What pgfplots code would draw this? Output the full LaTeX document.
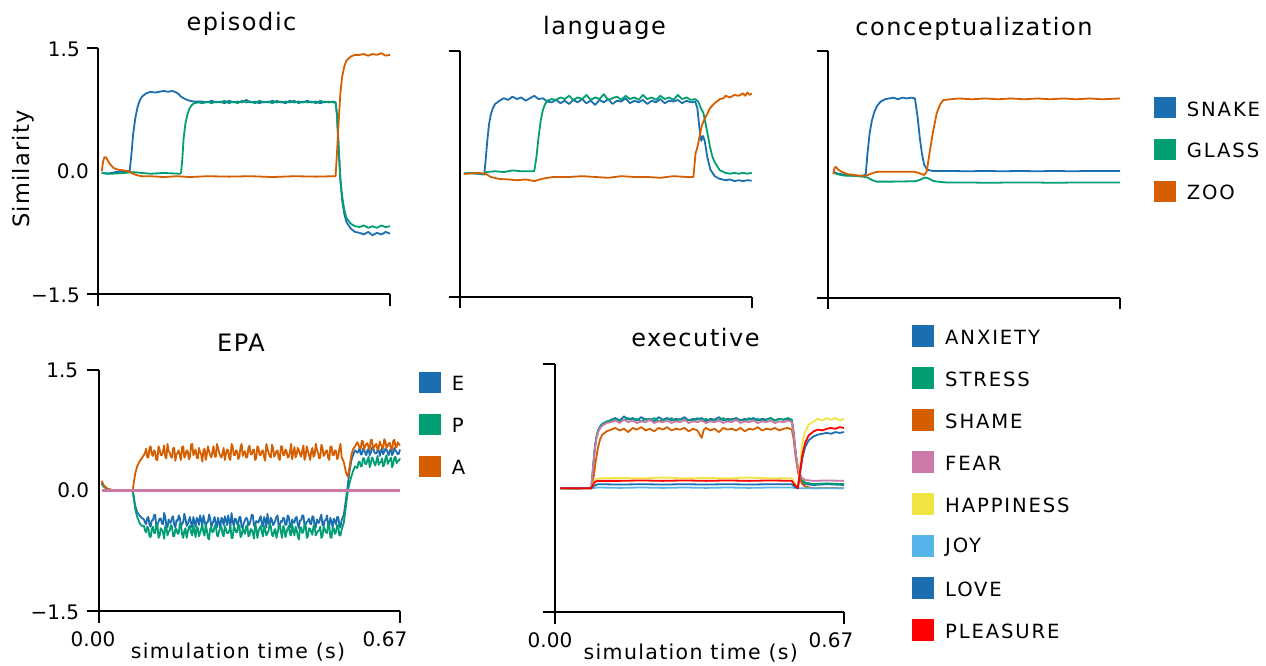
\documentclass[border=0pt]{standalone}
\usepackage{fontspec}
\setmainfont{DejaVu Sans}
\usepackage{pgfplots}
\usepackage{pgfplotstable}
\pgfplotsset{compat=1.18}
\definecolor{cblue}{HTML}{1B6FB0}
\definecolor{cgreen}{HTML}{029E73}
\definecolor{corange}{HTML}{D55E00}
\definecolor{cpink}{HTML}{CC79A7}
\definecolor{cyellow}{HTML}{F0E442}
\definecolor{csky}{HTML}{56B4E9}
\definecolor{cred}{HTML}{FF0000}
\newcommand{\ttlfont}{\fontsize{24}{28}\selectfont\addfontfeature{LetterSpace=6.5}}
\newcommand{\tickfont}{\fontsize{20}{24}\selectfont}
\newcommand{\xlabfont}{\fontsize{20.5}{24}\selectfont\addfontfeature{LetterSpace=6.5}}
\newcommand{\ylabfont}{\fontsize{22.5}{26}\selectfont\addfontfeature{LetterSpace=5.5}}
\newcommand{\legfont}{\fontsize{19.6}{23}\selectfont\addfontfeature{LetterSpace=9.5}}
\pgfplotsset{
 panel/.style={
  scale only axis, anchor=south west,
  xmin=0, xmax=0.67, ymin=-1.5, ymax=1.5,
  axis lines=left,
  axis line style={-, line width=2.3pt, black},
  xtick={0,0.67}, ytick={-1.5,1.5},
  xticklabels={}, yticklabels={},
  tick align=outside,
  major tick length=11.7pt,
  tick style={line width=2.3pt, black},
  clip=false,
  every axis plot/.append style={line width=1.8pt, line join=round, mark=none},
 }
}
\pgfplotstableread{
t E P A
0.006 0.10 0.08 0.12
0.010 0.06 0.05 0.07
0.015 0.03 0.03 0.04
0.020 0.015 0.015 0.02
0.030 0.005 0.005 0.005
0.040 0 0 0
0.060 0 0 0
0.075 0 0 0
0.078 -0.10 -0.12 0.12
0.081 -0.20 -0.24 0.22
0.085 -0.27 -0.33 0.30
0.090 -0.31 -0.40 0.36
0.095 -0.34 -0.44 0.40
0.100 -0.36 -0.44 0.44
0.1025 -0.40 -0.50 0.47
0.105 -0.42 -0.52 0.52
0.1075 -0.34 -0.45 0.41
0.110 -0.33 -0.47 0.41
0.1125 -0.43 -0.57 0.53
0.115 -0.45 -0.58 0.55
0.1175 -0.37 -0.48 0.45
0.120 -0.37 -0.45 0.43
0.1225 -0.31 -0.53 0.50
0.125 -0.30 -0.53 0.48
0.1275 -0.44 -0.43 0.38
0.130 -0.43 -0.42 0.38
0.1325 -0.39 -0.59 0.55
0.135 -0.35 -0.56 0.51
0.1375 -0.35 -0.47 0.44
0.140 -0.41 -0.49 0.44
0.1425 -0.42 -0.52 0.49
0.145 -0.28 -0.60 0.56
0.1475 -0.33 -0.44 0.42
0.150 -0.44 -0.46 0.40
0.1525 -0.46 -0.56 0.58
0.155 -0.36 -0.51 0.49
0.1575 -0.40 -0.50 0.47
0.160 -0.40 -0.43 0.42
0.1625 -0.34 -0.45 0.41
0.165 -0.32 -0.57 0.53
0.1675 -0.43 -0.57 0.53
0.170 -0.46 -0.48 0.37
0.1725 -0.37 -0.48 0.45
0.175 -0.38 -0.54 0.47
0.1775 -0.31 -0.53 0.50
0.180 -0.34 -0.41 0.43
0.1825 -0.44 -0.43 0.38
0.185 -0.42 -0.55 0.54
0.1875 -0.39 -0.59 0.55
0.190 -0.29 -0.50 0.41
0.1925 -0.35 -0.47 0.44
0.195 -0.44 -0.59 0.50
0.1975 -0.42 -0.52 0.49
0.200 -0.37 -0.45 0.39
0.2025 -0.33 -0.44 0.42
0.205 -0.41 -0.52 0.57
0.2075 -0.46 -0.56 0.58
0.210 -0.33 -0.44 0.44
0.2125 -0.40 -0.50 0.47
0.215 -0.45 -0.58 0.51
0.2175 -0.34 -0.45 0.41
0.220 -0.36 -0.47 0.40
0.2225 -0.43 -0.57 0.53
0.225 -0.31 -0.53 0.48
0.2275 -0.37 -0.48 0.45
0.230 -0.43 -0.42 0.36
0.2325 -0.31 -0.53 0.50
0.235 -0.38 -0.56 0.52
0.2375 -0.44 -0.43 0.38
0.240 -0.40 -0.49 0.45
0.2425 -0.39 -0.59 0.55
0.245 -0.30 -0.61 0.49
0.2475 -0.35 -0.47 0.44
0.250 -0.45 -0.46 0.41
0.2525 -0.42 -0.52 0.49
0.255 -0.37 -0.51 0.55
0.2575 -0.33 -0.44 0.42
0.260 -0.42 -0.43 0.42
0.2625 -0.46 -0.56 0.58
0.265 -0.34 -0.57 0.53
0.2675 -0.40 -0.50 0.47
0.270 -0.47 -0.48 0.43
0.2725 -0.34 -0.45 0.41
0.275 -0.36 -0.55 0.47
0.2775 -0.43 -0.57 0.53
0.280 -0.32 -0.44 0.38
0.2825 -0.37 -0.48 0.45
0.285 -0.43 -0.53 0.51
0.2875 -0.31 -0.53 0.50
0.290 -0.39 -0.50 0.40
0.2925 -0.44 -0.43 0.38
0.295 -0.28 -0.59 0.58
0.2975 -0.39 -0.59 0.55
0.300 -0.44 -0.45 0.44
0.3025 -0.35 -0.47 0.44
0.305 -0.36 -0.52 0.50
0.3075 -0.42 -0.52 0.49
0.310 -0.41 -0.42 0.39
0.3125 -0.33 -0.44 0.42
0.315 -0.33 -0.58 0.54
0.3175 -0.46 -0.56 0.58
0.320 -0.46 -0.47 0.43
0.3225 -0.40 -0.50 0.47
0.325 -0.37 -0.54 0.49
0.3275 -0.34 -0.45 0.41
0.330 -0.35 -0.43 0.41
0.3325 -0.43 -0.57 0.53
0.335 -0.42 -0.56 0.56
0.3375 -0.37 -0.48 0.45
0.340 -0.30 -0.49 0.45
0.3425 -0.31 -0.53 0.50
0.345 -0.44 -0.60 0.51
0.3475 -0.44 -0.43 0.38
0.350 -0.38 -0.46 0.40
0.3525 -0.39 -0.59 0.55
0.355 -0.40 -0.51 0.53
0.3575 -0.35 -0.47 0.44
0.360 -0.32 -0.44 0.44
0.3625 -0.42 -0.52 0.49
0.365 -0.45 -0.57 0.50
0.3675 -0.33 -0.44 0.42
0.370 -0.36 -0.48 0.37
0.3725 -0.46 -0.56 0.58
0.375 -0.29 -0.53 0.52
0.3775 -0.40 -0.50 0.47
0.380 -0.43 -0.41 0.43
0.3825 -0.34 -0.45 0.41
0.385 -0.37 -0.55 0.57
0.3875 -0.43 -0.57 0.53
0.390 -0.41 -0.50 0.42
0.3925 -0.37 -0.48 0.45
0.395 -0.33 -0.59 0.49
0.3975 -0.31 -0.53 0.50
0.400 -0.46 -0.45 0.40
0.4025 -0.44 -0.43 0.38
0.405 -0.38 -0.52 0.55
0.4075 -0.39 -0.59 0.55
0.410 -0.34 -0.44 0.44
0.4125 -0.35 -0.47 0.44
0.415 -0.43 -0.58 0.51
0.4175 -0.42 -0.52 0.49
0.420 -0.31 -0.47 0.41
0.4225 -0.33 -0.44 0.42
0.425 -0.44 -0.54 0.48
0.4275 -0.46 -0.56 0.58
0.430 -0.36 -0.42 0.39
0.4325 -0.40 -0.50 0.47
0.435 -0.40 -0.56 0.54
0.4375 -0.34 -0.45 0.41
0.440 -0.33 -0.49 0.45
0.4425 -0.43 -0.57 0.53
0.445 -0.47 -0.61 0.50
0.4475 -0.37 -0.48 0.45
0.450 -0.37 -0.46 0.42
0.4525 -0.31 -0.53 0.50
0.455 -0.31 -0.51 0.56
0.4575 -0.44 -0.43 0.38
0.460 -0.42 -0.43 0.43
0.4625 -0.39 -0.59 0.55
0.465 -0.38 -0.57 0.49
0.4675 -0.35 -0.47 0.44
0.470 -0.41 -0.48 0.38
0.4725 -0.42 -0.52 0.49
0.475 -0.32 -0.55 0.53
0.4775 -0.33 -0.44 0.42
0.480 -0.45 -0.44 0.44
0.4825 -0.46 -0.56 0.58
0.485 -0.36 -0.53 0.51
0.4875 -0.40 -0.50 0.47
0.490 -0.40 -0.50 0.40
0.4925 -0.34 -0.45 0.41
0.495 -0.30 -0.59 0.57
0.4975 -0.43 -0.57 0.53
0.500 -0.44 -0.45 0.43
0.5025 -0.37 -0.48 0.45
0.505 -0.37 -0.52 0.49
0.5075 -0.31 -0.53 0.50
0.510 -0.42 -0.42 0.41
0.5125 -0.44 -0.43 0.38
0.515 -0.34 -0.58 0.54
0.5175 -0.39 -0.59 0.55
0.520 -0.46 -0.47 0.44
0.5225 -0.35 -0.47 0.44
0.525 -0.38 -0.54 0.50
0.5275 -0.42 -0.52 0.49
0.530 -0.33 -0.43 0.39
0.5325 -0.33 -0.44 0.42
0.535 -0.43 -0.56 0.52
0.5375 -0.46 -0.56 0.58
0.540 -0.37 -0.49 0.42
0.545 -0.30 -0.40 0.35
0.550 -0.10 -0.18 0.22
0.554 0.08 0.00 0.17
0.558 0.25 0.10 0.30
0.562 0.38 0.18 0.45
0.566 0.45 0.25 0.52
0.570 0.50 0.30 0.55
0.575 0.47 0.28 0.60
0.5775 0.49 0.35 0.57
0.580 0.53 0.36 0.53
0.5825 0.45 0.30 0.52
0.585 0.45 0.30 0.62
0.5875 0.52 0.40 0.61
0.590 0.51 0.40 0.51
0.5925 0.47 0.33 0.55
0.595 0.44 0.33 0.58
0.5975 0.50 0.38 0.59
0.600 0.52 0.42 0.54
0.6025 0.44 0.29 0.51
0.605 0.47 0.34 0.63
0.6075 0.53 0.41 0.63
0.610 0.54 0.39 0.52
0.6125 0.48 0.34 0.54
0.615 0.46 0.31 0.57
0.6175 0.46 0.37 0.58
0.620 0.50 0.43 0.50
0.6225 0.51 0.32 0.53
0.625 0.43 0.35 0.61
0.6275 0.49 0.35 0.57
0.630 0.53 0.40 0.55
0.6325 0.45 0.30 0.52
0.635 0.48 0.32 0.64
0.6375 0.52 0.40 0.61
0.640 0.51 0.44 0.53
0.6425 0.47 0.33 0.55
0.645 0.44 0.36 0.59
0.6475 0.50 0.38 0.59
0.650 0.52 0.41 0.52
0.6525 0.44 0.29 0.51
0.655 0.47 0.33 0.62
0.6575 0.53 0.41 0.63
0.660 0.50 0.42 0.54
0.6625 0.48 0.34 0.54
0.665 0.45 0.37 0.60
0.6675 0.46 0.37 0.58
0.670 0.51 0.40 0.56
}\epatable
\begin{document}
\begin{tikzpicture}[x=1pt,y=1pt]
\useasboundingbox (0,0) rectangle (1266,665);

% ---------------- episodic
\begin{axis}[panel, at={(98.3pt,370.7pt)}, width=291.7pt, height=246pt]
\addplot[cblue] coordinates {(0.008,-0.02)(0.02,-0.03)(0.04,-0.01)(0.06,0.0)(0.072,0.0)(0.076,0.2)(0.08,0.45)(0.085,0.65)(0.09,0.78)(0.095,0.86)(0.10,0.91)(0.11,0.95)(0.12,0.97)(0.13,0.96)(0.14,0.97)(0.15,0.98)(0.16,0.97)(0.17,0.98)(0.175,0.97)(0.18,0.96)(0.185,0.94)(0.19,0.91)(0.20,0.88)(0.21,0.86)(0.22,0.85)(0.23,0.85)(0.24,0.85)(0.25,0.84)(0.26,0.86)(0.27,0.84)(0.28,0.85)(0.29,0.83)(0.30,0.86)(0.31,0.84)(0.32,0.85)(0.33,0.84)(0.34,0.87)(0.35,0.84)(0.36,0.85)(0.37,0.83)(0.38,0.85)(0.39,0.84)(0.40,0.86)(0.41,0.84)(0.42,0.85)(0.43,0.83)(0.44,0.86)(0.45,0.84)(0.46,0.85)(0.47,0.84)(0.48,0.86)(0.49,0.84)(0.50,0.85)(0.51,0.83)(0.52,0.85)(0.53,0.84)(0.54,0.85)(0.545,0.84)(0.548,0.7)(0.552,0.3)(0.556,-0.1)(0.56,-0.35)(0.565,-0.52)(0.57,-0.62)(0.58,-0.70)(0.59,-0.74)(0.60,-0.75)(0.61,-0.77)(0.62,-0.74)(0.63,-0.78)(0.64,-0.75)(0.65,-0.77)(0.66,-0.74)(0.67,-0.76)};
\addplot[cgreen] coordinates {(0.008,-0.02)(0.03,-0.03)(0.06,-0.02)(0.08,-0.01)(0.10,-0.02)(0.12,-0.03)(0.15,-0.02)(0.188,-0.03)(0.19,-0.02)(0.193,0.15)(0.196,0.4)(0.20,0.58)(0.205,0.70)(0.21,0.77)(0.215,0.81)(0.22,0.83)(0.23,0.84)(0.24,0.83)(0.25,0.85)(0.26,0.83)(0.27,0.85)(0.28,0.84)(0.29,0.86)(0.30,0.83)(0.31,0.85)(0.32,0.83)(0.33,0.86)(0.34,0.84)(0.35,0.85)(0.36,0.83)(0.37,0.86)(0.38,0.84)(0.39,0.85)(0.40,0.83)(0.41,0.86)(0.42,0.84)(0.43,0.85)(0.44,0.84)(0.45,0.86)(0.46,0.83)(0.47,0.85)(0.48,0.84)(0.49,0.85)(0.50,0.83)(0.51,0.86)(0.52,0.84)(0.53,0.85)(0.54,0.84)(0.545,0.84)(0.548,0.7)(0.552,0.3)(0.556,-0.1)(0.56,-0.3)(0.565,-0.47)(0.57,-0.57)(0.58,-0.64)(0.59,-0.67)(0.60,-0.68)(0.61,-0.66)(0.62,-0.69)(0.63,-0.67)(0.64,-0.69)(0.65,-0.66)(0.66,-0.68)(0.67,-0.67)};
\addplot[corange] coordinates {(0.008,0.0)(0.011,0.12)(0.014,0.17)(0.018,0.17)(0.022,0.13)(0.028,0.08)(0.035,0.04)(0.045,0.02)(0.06,0.01)(0.07,0.0)(0.08,-0.03)(0.09,-0.05)(0.10,-0.06)(0.12,-0.06)(0.15,-0.07)(0.18,-0.06)(0.21,-0.07)(0.25,-0.06)(0.30,-0.065)(0.35,-0.06)(0.40,-0.07)(0.45,-0.06)(0.50,-0.065)(0.545,-0.06)(0.548,0.2)(0.552,0.6)(0.556,0.95)(0.56,1.15)(0.565,1.28)(0.57,1.35)(0.58,1.40)(0.59,1.42)(0.60,1.42)(0.61,1.43)(0.62,1.41)(0.63,1.43)(0.64,1.42)(0.65,1.44)(0.66,1.41)(0.67,1.42)};
\end{axis}

% ---------------- language
\begin{axis}[panel, at={(460.3pt,368.3pt)}, width=291.4pt, height=246pt]
\addplot[cblue] coordinates {(0.008,0)(0.02,0.01)(0.04,0.0)(0.055,-0.01)(0.058,0.15)(0.062,0.4)(0.066,0.6)(0.07,0.72)(0.075,0.8)(0.08,0.85)(0.09,0.89)(0.10,0.92)(0.11,0.90)(0.12,0.94)(0.13,0.91)(0.14,0.93)(0.15,0.89)(0.16,0.92)(0.17,0.95)(0.18,0.91)(0.19,0.92)(0.20,0.88)(0.21,0.87)(0.22,0.90)(0.23,0.86)(0.24,0.89)(0.25,0.85)(0.26,0.90)(0.27,0.87)(0.28,0.91)(0.29,0.86)(0.30,0.89)(0.31,0.84)(0.32,0.90)(0.33,0.87)(0.34,0.91)(0.35,0.85)(0.36,0.89)(0.37,0.88)(0.38,0.92)(0.39,0.86)(0.40,0.89)(0.41,0.87)(0.42,0.90)(0.43,0.85)(0.44,0.89)(0.45,0.87)(0.46,0.91)(0.47,0.86)(0.48,0.89)(0.49,0.88)(0.50,0.90)(0.51,0.86)(0.52,0.89)(0.53,0.87)(0.54,0.88)(0.545,0.8)(0.55,0.55)(0.554,0.4)(0.558,0.46)(0.562,0.40)(0.568,0.2)(0.575,0.05)(0.585,-0.03)(0.595,-0.06)(0.61,-0.08)(0.62,-0.07)(0.63,-0.09)(0.64,-0.08)(0.65,-0.09)(0.66,-0.08)(0.67,-0.085)};
\addplot[cgreen] coordinates {(0.008,0)(0.02,0.01)(0.04,0.0)(0.055,0.0)(0.06,0.02)(0.08,0.03)(0.10,0.02)(0.12,0.04)(0.14,0.03)(0.16,0.03)(0.17,0.03)(0.175,0.2)(0.18,0.45)(0.185,0.65)(0.19,0.78)(0.195,0.85)(0.20,0.89)(0.21,0.91)(0.22,0.90)(0.23,0.93)(0.24,0.91)(0.25,0.95)(0.26,0.90)(0.27,0.93)(0.28,0.91)(0.29,0.96)(0.30,0.90)(0.31,0.93)(0.32,0.91)(0.33,0.97)(0.34,0.90)(0.35,0.92)(0.36,0.94)(0.37,0.90)(0.38,0.95)(0.39,0.91)(0.40,0.93)(0.41,0.90)(0.42,0.96)(0.43,0.91)(0.44,0.93)(0.45,0.90)(0.46,0.95)(0.47,0.91)(0.48,0.93)(0.49,0.90)(0.50,0.96)(0.51,0.91)(0.52,0.93)(0.53,0.90)(0.54,0.91)(0.547,0.88)(0.553,0.80)(0.559,0.74)(0.567,0.53)(0.574,0.33)(0.580,0.20)(0.586,0.13)(0.597,0.04)(0.61,0.01)(0.62,0.0)(0.63,0.01)(0.64,0.0)(0.65,0.01)(0.66,0.0)(0.67,0.01)};
\addplot[corange] coordinates {(0.008,0)(0.02,0.0)(0.04,0.01)(0.058,0.0)(0.07,-0.04)(0.09,-0.065)(0.11,-0.07)(0.13,-0.08)(0.15,-0.07)(0.17,-0.09)(0.19,-0.06)(0.213,-0.04)(0.25,-0.04)(0.28,-0.03)(0.31,-0.04)(0.34,-0.05)(0.37,-0.03)(0.40,-0.04)(0.43,-0.04)(0.46,-0.05)(0.49,-0.03)(0.52,-0.04)(0.536,-0.04)(0.538,0.08)(0.541,0.25)(0.545,0.32)(0.55,0.45)(0.555,0.58)(0.56,0.65)(0.567,0.72)(0.574,0.80)(0.585,0.86)(0.597,0.91)(0.605,0.92)(0.61,0.95)(0.62,0.93)(0.63,0.96)(0.64,0.95)(0.65,0.98)(0.655,0.95)(0.66,0.99)(0.665,0.96)(0.67,0.98)};
\end{axis}

% ---------------- conceptualization
\begin{axis}[panel, at={(828.3pt,367.3pt)}, width=291.7pt, height=247pt]
\addplot[cblue] coordinates {(0.0115,0.03)(0.02,0.01)(0.04,-0.01)(0.06,-0.02)(0.08,-0.02)(0.086,0.0)(0.09,0.25)(0.095,0.5)(0.10,0.65)(0.106,0.76)(0.112,0.83)(0.12,0.88)(0.13,0.91)(0.14,0.92)(0.15,0.93)(0.16,0.91)(0.17,0.93)(0.18,0.92)(0.19,0.93)(0.199,0.92)(0.205,0.7)(0.21,0.45)(0.215,0.25)(0.22,0.12)(0.225,0.07)(0.23,0.05)(0.24,0.04)(0.28,0.04)(0.32,0.035)(0.36,0.04)(0.40,0.035)(0.44,0.04)(0.48,0.035)(0.52,0.04)(0.56,0.035)(0.60,0.04)(0.64,0.04)(0.67,0.04)};
\addplot[cgreen] coordinates {(0.0115,0.03)(0.02,0.0)(0.04,-0.02)(0.06,-0.02)(0.08,-0.03)(0.09,-0.04)(0.10,-0.07)(0.11,-0.09)(0.15,-0.09)(0.2,-0.085)(0.21,-0.07)(0.222,-0.04)(0.23,-0.05)(0.24,-0.08)(0.25,-0.09)(0.27,-0.10)(0.32,-0.10)(0.37,-0.105)(0.42,-0.10)(0.47,-0.10)(0.52,-0.105)(0.57,-0.10)(0.62,-0.10)(0.67,-0.10)};
\addplot[corange] coordinates {(0.0115,0.0)(0.014,0.07)(0.017,0.09)(0.022,0.06)(0.03,0.03)(0.045,0.0)(0.06,-0.01)(0.075,-0.02)(0.086,-0.02)(0.095,0.0)(0.105,0.02)(0.115,0.03)(0.15,0.03)(0.195,0.03)(0.205,0.02)(0.215,0.0)(0.22,-0.01)(0.226,0.03)(0.2335,0.29)(0.24,0.5)(0.249,0.74)(0.257,0.85)(0.264,0.9)(0.28,0.91)(0.30,0.92)(0.33,0.91)(0.36,0.92)(0.39,0.91)(0.42,0.92)(0.45,0.91)(0.48,0.92)(0.51,0.91)(0.54,0.92)(0.57,0.91)(0.60,0.92)(0.63,0.91)(0.67,0.92)};
\end{axis}

% ---------------- EPA
\begin{axis}[panel, at={(99pt,54pt)}, width=301pt, height=241pt]
\addplot[cblue] table[x=t,y=E] {\epatable};
\addplot[cgreen] table[x=t,y=P] {\epatable};
\addplot[corange] table[x=t,y=A] {\epatable};
\addplot[cpink, line width=2.3pt] coordinates {(0.006,0)(0.67,0)};
\end{axis}

% ---------------- executive
\begin{axis}[panel, at={(555pt,52.7pt)}, width=289pt, height=248pt]
\addplot[cblue] coordinates {(0.012,0)(0.03,0.005)(0.05,-0.005)(0.07,0.005)(0.084,0)(0.088,0.22)(0.092,0.47)(0.096,0.62)(0.10,0.70)(0.105,0.75)(0.11,0.78)(0.12,0.80)(0.13,0.83)(0.14,0.85)(0.15,0.82)(0.16,0.87)(0.17,0.83)(0.18,0.85)(0.19,0.82)(0.20,0.86)(0.21,0.83)(0.22,0.84)(0.23,0.81)(0.24,0.86)(0.25,0.83)(0.26,0.85)(0.27,0.82)(0.28,0.84)(0.29,0.83)(0.30,0.86)(0.31,0.82)(0.32,0.84)(0.33,0.83)(0.34,0.85)(0.35,0.81)(0.36,0.84)(0.37,0.83)(0.38,0.86)(0.39,0.82)(0.40,0.84)(0.41,0.83)(0.42,0.85)(0.43,0.82)(0.44,0.84)(0.45,0.83)(0.46,0.85)(0.47,0.82)(0.48,0.84)(0.49,0.83)(0.50,0.85)(0.51,0.82)(0.52,0.84)(0.53,0.83)(0.54,0.84)(0.549,0.82)(0.553,0.68)(0.558,0.42)(0.564,0.2)(0.572,0.08)(0.58,0.05)(0.60,0.04)(0.63,0.05)(0.67,0.04)};
\addplot[cgreen] coordinates {(0.012,0)(0.03,-0.005)(0.05,0.005)(0.07,0.0)(0.084,0)(0.088,0.24)(0.092,0.48)(0.096,0.62)(0.10,0.70)(0.105,0.75)(0.11,0.78)(0.12,0.81)(0.13,0.82)(0.14,0.84)(0.15,0.81)(0.16,0.83)(0.17,0.85)(0.18,0.82)(0.19,0.84)(0.20,0.81)(0.21,0.84)(0.22,0.82)(0.23,0.85)(0.24,0.81)(0.25,0.83)(0.26,0.82)(0.27,0.85)(0.28,0.81)(0.29,0.84)(0.30,0.82)(0.31,0.83)(0.32,0.81)(0.33,0.85)(0.34,0.82)(0.35,0.84)(0.36,0.81)(0.37,0.83)(0.38,0.82)(0.39,0.85)(0.40,0.81)(0.41,0.84)(0.42,0.82)(0.43,0.83)(0.44,0.81)(0.45,0.85)(0.46,0.82)(0.47,0.84)(0.48,0.81)(0.49,0.83)(0.50,0.85)(0.51,0.82)(0.52,0.84)(0.53,0.83)(0.54,0.85)(0.549,0.83)(0.553,0.68)(0.558,0.42)(0.564,0.2)(0.572,0.1)(0.58,0.07)(0.60,0.05)(0.63,0.06)(0.67,0.05)};
\addplot[corange] coordinates {(0.012,0)(0.03,0.0)(0.05,-0.005)(0.07,0.0)(0.084,0)(0.09,0.15)(0.095,0.35)(0.10,0.50)(0.105,0.60)(0.11,0.65)(0.12,0.69)(0.13,0.71)(0.14,0.73)(0.15,0.70)(0.16,0.72)(0.17,0.68)(0.18,0.73)(0.19,0.71)(0.20,0.74)(0.21,0.70)(0.22,0.72)(0.23,0.69)(0.24,0.73)(0.25,0.71)(0.26,0.74)(0.27,0.70)(0.28,0.72)(0.29,0.71)(0.30,0.73)(0.31,0.69)(0.32,0.72)(0.33,0.70)(0.34,0.61)(0.345,0.71)(0.35,0.73)(0.36,0.70)(0.37,0.72)(0.38,0.68)(0.39,0.73)(0.40,0.71)(0.41,0.72)(0.42,0.70)(0.43,0.73)(0.44,0.69)(0.45,0.72)(0.46,0.71)(0.47,0.74)(0.48,0.70)(0.49,0.72)(0.50,0.71)(0.51,0.73)(0.52,0.70)(0.53,0.72)(0.54,0.73)(0.549,0.71)(0.553,0.6)(0.558,0.38)(0.564,0.18)(0.572,0.06)(0.58,0.02)(0.60,0.0)(0.63,0.005)(0.67,0.0)};
\addplot[cpink] coordinates {(0.012,0)(0.03,0.0)(0.05,0.005)(0.07,0.0)(0.084,0)(0.088,0.23)(0.092,0.46)(0.096,0.60)(0.10,0.68)(0.105,0.73)(0.11,0.76)(0.12,0.79)(0.13,0.80)(0.14,0.82)(0.15,0.79)(0.16,0.83)(0.17,0.80)(0.18,0.82)(0.19,0.79)(0.20,0.81)(0.21,0.80)(0.22,0.83)(0.23,0.79)(0.24,0.81)(0.25,0.80)(0.26,0.82)(0.27,0.79)(0.28,0.81)(0.29,0.80)(0.30,0.83)(0.31,0.79)(0.32,0.81)(0.33,0.80)(0.34,0.82)(0.35,0.79)(0.36,0.81)(0.37,0.80)(0.38,0.82)(0.39,0.79)(0.40,0.81)(0.41,0.80)(0.42,0.83)(0.43,0.79)(0.44,0.81)(0.45,0.80)(0.46,0.82)(0.47,0.79)(0.48,0.81)(0.49,0.80)(0.50,0.82)(0.51,0.79)(0.52,0.81)(0.53,0.80)(0.54,0.82)(0.549,0.80)(0.553,0.66)(0.558,0.42)(0.564,0.22)(0.572,0.13)(0.58,0.10)(0.60,0.09)(0.63,0.095)(0.67,0.09)};
\addplot[cyellow] coordinates {(0.012,0)(0.084,0)(0.09,0.07)(0.095,0.11)(0.10,0.12)(0.15,0.125)(0.2,0.12)(0.25,0.13)(0.3,0.12)(0.35,0.125)(0.4,0.12)(0.45,0.13)(0.5,0.12)(0.549,0.12)(0.556,0.06)(0.563,0.0)(0.567,0.2)(0.572,0.5)(0.578,0.66)(0.588,0.77)(0.60,0.81)(0.61,0.84)(0.62,0.82)(0.63,0.85)(0.64,0.83)(0.65,0.85)(0.66,0.82)(0.67,0.84)};
\addplot[csky] coordinates {(0.012,0)(0.084,0)(0.09,0.005)(0.10,0.01)(0.15,0.005)(0.2,0.01)(0.25,0.005)(0.3,0.01)(0.35,0.005)(0.4,0.01)(0.45,0.005)(0.5,0.01)(0.549,0.01)(0.56,0.0)(0.67,0.0)};
\addplot[cblue] coordinates {(0.012,0)(0.084,0)(0.09,0.03)(0.10,0.05)(0.15,0.045)(0.2,0.05)(0.25,0.045)(0.3,0.05)(0.35,0.045)(0.4,0.05)(0.45,0.045)(0.5,0.05)(0.549,0.05)(0.556,0.02)(0.563,0)(0.568,0.18)(0.574,0.38)(0.58,0.5)(0.588,0.58)(0.60,0.63)(0.61,0.65)(0.62,0.66)(0.63,0.67)(0.64,0.66)(0.65,0.68)(0.66,0.67)(0.67,0.68)};
\addplot[cred] coordinates {(0.012,0)(0.084,0)(0.09,0.06)(0.095,0.085)(0.10,0.09)(0.15,0.09)(0.2,0.095)(0.25,0.09)(0.3,0.095)(0.35,0.09)(0.4,0.095)(0.45,0.09)(0.5,0.095)(0.549,0.09)(0.556,0.04)(0.563,0)(0.568,0.2)(0.574,0.42)(0.58,0.55)(0.588,0.64)(0.60,0.69)(0.61,0.71)(0.62,0.70)(0.63,0.72)(0.64,0.73)(0.65,0.72)(0.66,0.74)(0.67,0.73)};
\end{axis}

% ---------------- titles
\node[anchor=base, inner sep=0] at (241.5,634.5) {\ttlfont episodic};
\node[anchor=base, inner sep=0] at (604.5,630) {\ttlfont language};
\node[anchor=base, inner sep=0] at (974,629) {\ttlfont conceptualization};
\node[anchor=base, inner sep=0] at (241,313.3) {\ttlfont EPA};
\node[anchor=base, inner sep=0] at (695.5,319) {\ttlfont executive};

% ---------------- tick labels
\node[anchor=east, inner sep=0] at (80,616) {\tickfont 1.5};
\node[anchor=east, inner sep=0] at (89,494.2) {\tickfont 0.0};
\node[anchor=east, inner sep=0] at (80,370) {\tickfont −1.5};
\node[anchor=east, inner sep=0] at (78.3,295) {\tickfont 1.5};
\node[anchor=east, inner sep=0] at (89.3,175) {\tickfont 0.0};
\node[anchor=east, inner sep=0] at (79.3,53) {\tickfont −1.5};
\node[inner sep=0] at (93,26) {\tickfont 0.00};
\node[inner sep=0] at (385,26) {\tickfont 0.67};
\node[inner sep=0] at (550,25) {\tickfont 0.00};
\node[inner sep=0] at (831,25) {\tickfont 0.67};

% ---------------- axis labels
\node[anchor=base, inner sep=0] at (238,6.7) {\xlabfont simulation time (s)};
\node[anchor=base, inner sep=0] at (690.8,6) {\xlabfont simulation time (s)};
\node[rotate=90, inner sep=0] at (23.3,496) {\ylabfont Similarity};

% ---------------- legends
\fill[cblue] (1154,546.5) rectangle (1176,567.5);
\fill[cgreen] (1154,504.5) rectangle (1176,525.5);
\fill[corange] (1154,462.8) rectangle (1176,483.8);
\node[anchor=west, inner sep=0] at (1186.7,556) {\legfont SNAKE};
\node[anchor=west, inner sep=0] at (1186.7,514.3) {\legfont GLASS};
\node[anchor=west, inner sep=0] at (1186.7,472.6) {\legfont ZOO};

\fill[cblue] (419,272.5) rectangle (440.7,293.5);
\fill[cgreen] (419,230) rectangle (440.7,251);
\fill[corange] (419,188.5) rectangle (440.7,209.5);
\node[anchor=west, inner sep=0] at (451.7,282) {\legfont E};
\node[anchor=west, inner sep=0] at (451.7,239.5) {\legfont P};
\node[anchor=west, inner sep=0] at (451.7,198) {\legfont A};

\foreach \c/\lab [count=\i from 0] in {cblue/ANXIETY, cgreen/STRESS, corange/SHAME, cpink/FEAR, cyellow/HAPPINESS, csky/JOY, cblue/LOVE, cred/PLEASURE}{
  \pgfmathsetmacro{\yc}{329-42*\i}
  \fill[\c] (912,\yc-10.8) rectangle (933.7,\yc+10.8);
  \node[anchor=west, inner sep=0] at (945,\yc-1.5) {\legfont \lab};
}
\end{tikzpicture}
\end{document}
